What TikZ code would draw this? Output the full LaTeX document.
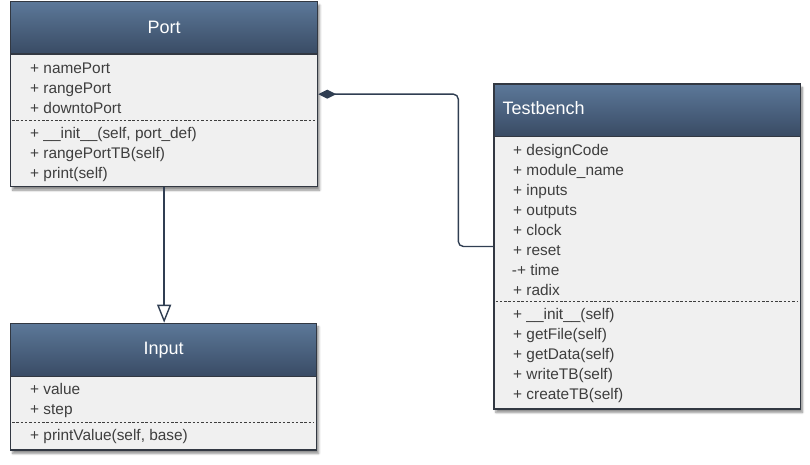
\documentclass[tikz,border=0pt]{standalone}
\usepackage{fontspec}
\setmainfont{Liberation Sans}
\usetikzlibrary{arrows.meta,shadows.blur}
\definecolor{hdrTop}{RGB}{92,120,153}
\definecolor{hdrBot}{RGB}{57,75,100}
\definecolor{bodyFill}{RGB}{240,240,240}
\definecolor{edgeCol}{RGB}{50,56,66}
\definecolor{txtCol}{RGB}{62,62,62}
\definecolor{lineCol}{RGB}{48,62,82}
\tikzset{
  classbox/.style={draw=edgeCol, line width=1.3pt, fill=bodyFill, anchor=north west, inner sep=0pt,
    blur shadow={shadow xshift=2pt, shadow yshift=-3.5pt, shadow blur steps=6, shadow opacity=45}},
  header/.style={draw=edgeCol, line width=1.3pt, top color=hdrTop, bottom color=hdrBot, anchor=north west, inner sep=0pt},
  title/.style={text=white, font=\fontsize{18}{20}\selectfont},
  row/.style={text=txtCol, anchor=base west, inner sep=0pt, font=\fontsize{15.4}{18}\selectfont},
  sep/.style={draw=txtCol, line width=0.9pt, dash pattern=on 2.5pt off 1.8pt},
  conn/.style={draw=lineCol, line width=1.4pt}
}
\begin{document}
\begin{tikzpicture}[x=1pt,y=-1pt]
\useasboundingbox (0,0) rectangle (810,464);
% ---------- Port ----------
\node[classbox, minimum width=307pt, minimum height=185pt] (port) at (10,1) {};
\node[header, minimum width=307pt, minimum height=52.3pt] (portH) at (port.north west) {};
\node[title] (portT) at (portH.center) {Port};
\node[row] (p1) at (30,73) {+ namePort};
\node[row] (p2) at (30,93) {+ rangePort};
\node[row] (p3) at (30,113) {+ downtoPort};
\draw[sep] (12,120.7) -- (315,120.7);
\node[row] (p4) at (30,138) {+ \_\_init\_\_(self, port\_def)};
\node[row] (p5) at (30,158) {+ rangePortTB(self)};
\node[row] (p6) at (30,178) {+ print(self)};
% ---------- Input ----------
\node[classbox, minimum width=306pt, minimum height=126.6pt] (input) at (10,322.7) {};
\node[header, minimum width=306pt, minimum height=53.3pt] (inputH) at (input.north west) {};
\node[title] (inputT) at (inputH.center) {Input};
\node[row] (i1) at (30,394.3) {+ value};
\node[row] (i2) at (30,414) {+ step};
\draw[sep] (12,422.7) -- (314,422.7);
\node[row] (i3) at (30,440) {+ printValue(self, base)};
% ---------- Testbench ----------
\node[classbox, minimum width=306.5pt, minimum height=325pt] (tb) at (493.3,83.3) {};
\node[header, minimum width=306.5pt, minimum height=52.4pt] (tbH) at (tb.north west) {};
\node[title, anchor=west] (tbT) at (499,108.5) {Testbench};
\node[row] (t1) at (513,155) {+ designCode};
\node[row] (t2) at (513,175) {+ module\_name};
\node[row] (t3) at (513,195) {+ inputs};
\node[row] (t4) at (513,215) {+ outputs};
\node[row] (t5) at (513,235) {+ clock};
\node[row] (t6) at (513,255) {+ reset};
\node[row] (t7) at (511.7,275) {-+ time};
\node[row] (t8) at (513,295) {+ radix};
\draw[sep] (495.5,301.7) -- (798,301.7);
\node[row] (t9) at (513,319.3) {+ \_\_init\_\_(self)};
\node[row] (t10) at (513,339.3) {+ getFile(self)};
\node[row] (t11) at (513,359.3) {+ getData(self)};
\node[row] (t12) at (513,379.3) {+ writeTB(self)};
\node[row] (t13) at (513,399.3) {+ createTB(self)};
% ---------- connectors ----------
\draw[conn, -{Triangle[open, length=18pt, width=14pt, fill=white]}] (port.south) -- (port.south |- inputH.north);
\draw[conn, rounded corners=5pt, {Diamond[length=18pt, width=9pt, fill=lineCol]}-]
  (port.east) -| ([xshift=-35pt]tb.west) -- (tb.west);
\end{tikzpicture}
\end{document}
